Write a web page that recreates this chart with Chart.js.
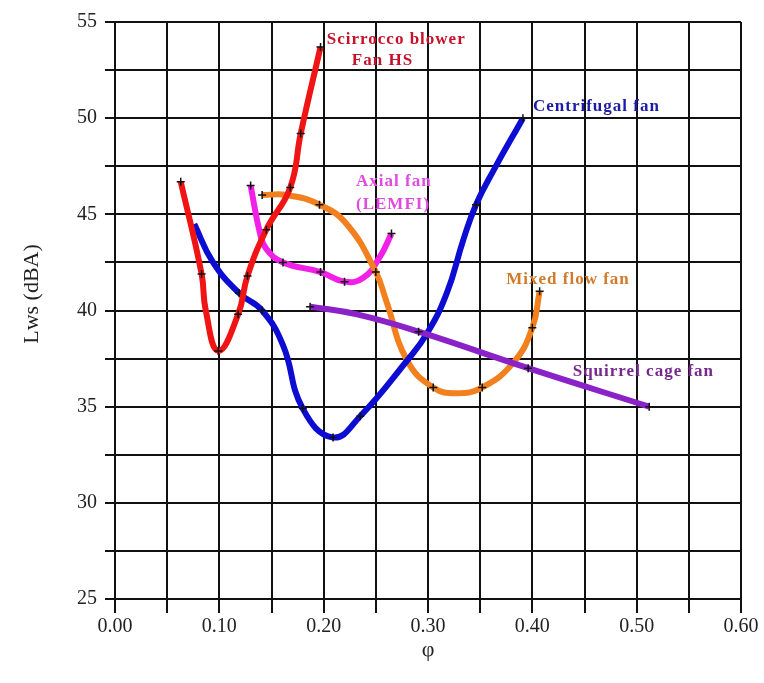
<!DOCTYPE html>
<html>
<head>
<meta charset="utf-8">
<script src="https://cdn.jsdelivr.net/npm/chart.js@4.4.0/dist/chart.umd.min.js"></script>
<style>
  body { margin: 0; background: #fff; }
  canvas { display: block; }
</style>
</head>
<body>
<canvas id="fanChart" width="764" height="683"></canvas>
<script>
// values (phi, Lws in dBA); marked = point shown with a "+"
const redPhi    = [0.063, 0.083, 0.087, 0.099, 0.118, 0.127, 0.145, 0.168, 0.178, 0.197];
const redLws    = [46.7, 41.9, 40.0, 37.9, 39.8, 41.8, 44.2, 46.4, 49.2, 53.7];
const redMarked = [1, 1, 0, 1, 1, 1, 1, 1, 1, 1];

const bluePhi    = [0.076, 0.094, 0.119, 0.141, 0.161, 0.180, 0.209, 0.235, 0.280, 0.299, 0.318, 0.334, 0.346, 0.363, 0.391];
const blueLws    = [44.5, 42.5, 40.9, 40.0, 38.2, 34.9, 33.4, 34.5, 37.4, 38.8, 40.9, 43.7, 45.5, 47.3, 50.0];
const blueMarked = [0, 0, 1, 1, 0, 1, 1, 1, 0, 0, 0, 0, 1, 0, 1];

const axialPhi    = [0.130, 0.139, 0.145, 0.161, 0.197, 0.220, 0.238, 0.254, 0.265];
const axialLws    = [46.5, 44.0, 43.2, 42.5, 42.0, 41.5, 41.7, 42.8, 44.0];
const axialMarked = [1, 0, 0, 1, 1, 1, 0, 0, 1];

const mixedPhi    = [0.141, 0.165, 0.196, 0.222, 0.250, 0.260, 0.280, 0.305, 0.327, 0.352, 0.382, 0.400, 0.407];
const mixedLws    = [46.0, 46.0, 45.5, 44.5, 42.0, 40.5, 37.4, 36.0, 35.7, 36.0, 37.3, 39.1, 41.0];
const mixedMarked = [1, 0, 1, 0, 1, 0, 0, 1, 0, 1, 0, 1, 1];

const squirrelPhi    = [0.187, 0.232, 0.291, 0.396, 0.512];
const squirrelLws    = [40.2, 39.8, 38.9, 37.0, 35.0];
const squirrelMarked = [1, 0, 1, 1, 1];

const xTicksMin = 0, xTicksMax = 0.6, xStep = 0.05;
const yTicksMin = 25, yTicksMax = 55, yStep = 2.5;

function makeSet(phi, lws, marked, color) {
  return {
    data: phi.map((p, i) => ({ x: p, y: lws[i] })),
    borderColor: color,
    backgroundColor: color,
    borderWidth: 6,
    tension: 0.45,
    pointStyle: 'cross',
    pointRadius: marked.map(m => m ? 4 : 0),
    pointBorderColor: '#111',
    pointBorderWidth: 1.5,
    showLine: true,
    fill: false
  };
}

// text labels next to the curves
const curveLabels = [
  { text: 'Scirrocco blower', phi: 0.203, lws: 54.1, color: '#c4122a' },
  { text: 'Fan HS', phi: 0.227, lws: 53.0, color: '#c4122a' },
  { text: 'Centrifugal fan', phi: 0.4006, lws: 50.6, color: '#1c1ca6' },
  { text: 'Axial fan', phi: 0.231, lws: 46.7, color: '#e04ae0' },
  { text: '(LEMFI)', phi: 0.231, lws: 45.5, color: '#e04ae0' },
  { text: 'Mixed flow fan', phi: 0.375, lws: 41.6, color: '#d27a2c' },
  { text: 'Squirrel cage fan', phi: 0.4387, lws: 36.8, color: '#76288e' }
];

const labelPlugin = {
  id: 'curveLabels',
  afterDatasetsDraw(chart) {
    const { ctx, scales: { x, y } } = chart;
    ctx.save();
    ctx.font = 'bold 17px "Liberation Serif"';
    ctx.textAlign = 'left';
    ctx.textBaseline = 'middle';
    ctx.letterSpacing = '1px';
    curveLabels.forEach(l => {
      ctx.fillStyle = l.color;
      ctx.fillText(l.text, x.getPixelForValue(l.phi), y.getPixelForValue(l.lws));
    });
    ctx.restore();

    // y axis title sits a little above the middle in the original
    ctx.save();
    ctx.translate(32, 294);
    ctx.rotate(-Math.PI / 2);
    ctx.font = '22px "Liberation Serif"';
    ctx.fillStyle = '#222';
    ctx.textAlign = 'center';
    ctx.textBaseline = 'middle';
    ctx.fillText('Lws (dBA)', 0, 0);
    ctx.restore();
  }
};

new Chart(document.getElementById('fanChart'), {
  type: 'scatter',
  data: {
    datasets: [
      makeSet(redPhi, redLws, redMarked, '#f01414'),
      makeSet(squirrelPhi, squirrelLws, squirrelMarked, '#8a22c8'),
      makeSet(bluePhi, blueLws, blueMarked, '#0c0cd2'),
      makeSet(mixedPhi, mixedLws, mixedMarked, '#f2801e'),
      makeSet(axialPhi, axialLws, axialMarked, '#f020e6')
    ]
  },
  options: {
    responsive: false,
    devicePixelRatio: 1,
    animation: false,
    layout: { padding: { top: 22, right: 23, left: 0, bottom: 0 } },
    plugins: { legend: { display: false }, tooltip: { enabled: false } },
    scales: {
      x: {
        type: 'linear',
        min: xTicksMin,
        max: xTicksMax,
        afterFit: s => { s.height = 84; },
        ticks: {
          stepSize: xStep,
          autoSkip: false,
          maxRotation: 0,
          padding: 2,
          color: '#222',
          font: { family: '"Liberation Serif"', size: 20 },
          callback: v => Math.round(v * 20) % 2 === 0 ? v.toFixed(2) : ''
        },
        grid: { color: '#111', lineWidth: 2, tickLength: 14 },
        border: { color: '#111', width: 2 },
        title: {
          display: true,
          text: 'φ',
          color: '#222',
          font: { family: '"Liberation Serif"', size: 22 },
          padding: { top: 0, bottom: 20 }
        }
      },
      y: {
        type: 'linear',
        min: yTicksMin,
        max: yTicksMax,
        afterFit: s => { s.width = 115; },
        ticks: {
          stepSize: yStep,
          padding: 8,
          color: '#222',
          font: { family: '"Liberation Serif"', size: 20 },
          callback: v => v % 5 === 0 ? v : ''
        },
        grid: { color: '#111', lineWidth: 2, tickLength: 10 },
        border: { color: '#111', width: 2 }
      }
    }
  },
  plugins: [labelPlugin]
});
</script>
</body>
</html>
